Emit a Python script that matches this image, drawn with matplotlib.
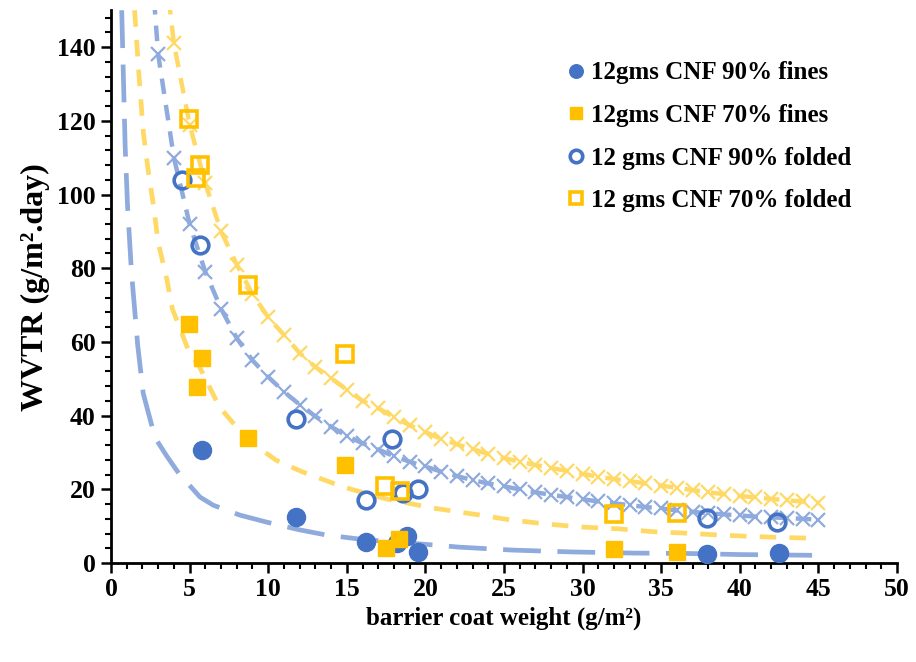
#!/usr/bin/env python3
"""WVTR vs barrier coat weight for CNF coatings (fines / folded)."""

import matplotlib

matplotlib.use("Agg")
import matplotlib.pyplot as plt
from matplotlib.ticker import MultipleLocator

BLUE = "#4472C4"
GOLD = "#FFC000"
BLUE_LINE = "#8FAADC"
GOLD_LINE = "#FFD966"

# measured points
fines90_x = [5.8, 11.8, 16.2, 18.2, 18.8, 19.5, 37.9, 42.5]
fines90_y = [30.7, 12.5, 5.7, 5.3, 7.3, 3.0, 2.5, 2.6]

fines70_x = [4.96, 5.8, 5.45, 8.7, 14.9, 17.5, 18.3, 32.0, 36.0]
fines70_y = [64.8, 55.6, 47.8, 33.9, 26.6, 4.1, 6.5, 3.8, 3.0]

folded90_x = [4.5, 5.66, 11.8, 17.9, 16.2, 18.6, 19.5, 37.9, 42.4]
folded90_y = [104.0, 86.3, 39.1, 33.6, 17.1, 19.0, 20.2, 12.2, 11.0]

folded70_x = [4.96, 5.66, 5.4, 8.7, 14.9, 17.4, 18.4, 32.0, 36.0]
folded70_y = [120.5, 108.0, 104.4, 75.4, 56.7, 21.0, 19.5, 13.3, 13.5]

# trend curves for the fines series
trend90_x = [0.68, 0.9, 1.05, 1.3, 1.7, 2.05, 2.8, 3.55, 4.3, 5.66, 6.5, 8.2,
             9.9, 12.0, 13.7, 16.0, 20.5, 22.2, 25.6, 29.4, 33.2, 36.6, 40.0, 44.6]
trend90_y = [150, 113, 97, 79, 59, 46, 34, 29, 24.4, 17.9, 15.7, 13.0,
             11.1, 9.0, 7.6, 6.4, 4.9, 4.3, 3.5, 3.0, 2.7, 2.6, 2.3, 2.1]

trend70_x = [1.5, 1.75, 2.05, 2.35, 2.7, 3.0, 3.55, 3.9, 4.9, 5.66, 6.9, 8.7,
             10.5, 12.2, 14.8, 17.3, 20.5, 23.5, 25.4, 27.7, 29.8, 32.2, 34.5,
             36.6, 38.7, 40.8, 43.0, 45.0]
trend70_y = [150, 134, 117, 107, 97, 87, 77, 69, 58, 53, 42.3, 33.4,
             27.9, 24.7, 20.6, 17.6, 14.9, 13.0, 11.7, 10.6, 9.8, 9.3, 8.5,
             8.1, 7.6, 7.2, 6.9, 6.7]

# model series for the folded samples (x markers, one per g/m2)
model90_x = list(range(2, 46))
model90_y = [195, 138, 110, 92, 79, 69, 61, 55, 50.5, 46.5, 43.0, 39.8, 37.0,
             34.5, 32.5, 30.8, 29.0, 27.5, 26.2, 24.8, 23.6, 22.5, 21.6, 20.8,
             20.0, 19.2, 18.5, 17.9, 17.3, 16.7, 16.2, 15.7, 15.2, 14.8, 14.3,
             13.9, 13.5, 13.2, 12.9, 12.6, 12.4, 12.2, 12.0, 11.8]

model70_x = list(range(3, 46))
model70_y = [178, 141, 119, 103, 90, 81, 73, 66.7, 61.9, 57.0, 53.2, 50.2,
             47.0, 44.0, 42.0, 39.6, 37.4, 35.5, 33.7, 32.2, 30.9, 29.6, 28.5,
             27.5, 26.6, 25.8, 25.0, 24.2, 23.4, 22.8, 22.2, 21.6, 21.0, 20.4,
             19.8, 19.2, 18.7, 18.2, 17.8, 17.4, 17.0, 16.7, 16.4]

plt.rcParams["font.family"] = ["Liberation Serif", "DejaVu Serif"]
plt.rcParams["font.weight"] = "bold"

fig = plt.figure(figsize=(9.16, 6.62), dpi=100)
ax = fig.add_axes([0.1212, 0.1495, 0.858, 0.835])

# model curves with x markers
ax.plot(model70_x, model70_y, color=GOLD_LINE, lw=0, marker="x", ms=10,
        mew=1.6, zorder=2)
ax.plot(model70_x, model70_y, color=GOLD_LINE, lw=3.2, dashes=(3.5, 2.5),
        zorder=3)
ax.plot(model90_x, model90_y, color=BLUE_LINE, lw=0, marker="x", ms=10,
        mew=1.6, zorder=2)
ax.plot(model90_x, model90_y, color=BLUE_LINE, lw=3.2, dashes=(3.5, 2.5),
        zorder=3)

# fines trend lines
ax.plot(trend70_x, trend70_y, color=GOLD_LINE, lw=3.4, dashes=(3.5, 2.8),
        zorder=3)
ax.plot(trend90_x, trend90_y, color=BLUE_LINE, lw=3.4, dashes=(8, 3.5),
        zorder=3)

# measurements
ax.plot(fines90_x, fines90_y, ls="none", marker="o", ms=13, color=BLUE,
        mec=BLUE, label="12gms CNF 90% fines", zorder=5)
ax.plot(fines70_x, fines70_y, ls="none", marker="s", ms=12, color=GOLD,
        mec=GOLD, label="12gms CNF 70% fines", zorder=5)
ax.plot(folded90_x, folded90_y, ls="none", marker="o", ms=12, mfc="none",
        mec=BLUE, mew=2.6, label="12 gms CNF 90% folded", zorder=5)
ax.plot(folded70_x, folded70_y, ls="none", marker="s", ms=12, mfc="none",
        mec=GOLD, mew=2.6, label="12 gms CNF 70% folded", zorder=5)

ax.set_xlim(0, 50)
ax.set_ylim(0, 150)
ax.xaxis.set_major_locator(MultipleLocator(5))
ax.xaxis.set_minor_locator(MultipleLocator(1))
ax.yaxis.set_major_locator(MultipleLocator(20))
ax.yaxis.set_minor_locator(MultipleLocator(4))

for side in ("top", "right"):
    ax.spines[side].set_visible(False)
for side in ("left", "bottom"):
    ax.spines[side].set_linewidth(2.0)
    ax.spines[side].set_color("black")

ax.tick_params(which="major", direction="out", length=7, width=1.8,
               labelsize=18.5, pad=4)
ax.tick_params(which="minor", direction="out", length=4.5, width=1.5)

ax.set_xlabel("barrier coat weight (g/m²)", fontsize=18,
              fontweight="bold", labelpad=4)
ax.set_ylabel("WVTR (g/m².day)", fontsize=23,
              fontweight="bold", labelpad=5)

leg = ax.legend(loc="upper left", bbox_to_anchor=(557 / 916, 1 - 49 / 662),
                bbox_transform=fig.transFigure, frameon=False, fontsize=18,
                handlelength=0.5, handletextpad=0.35, labelspacing=0.78,
                markerscale=0.75, borderpad=0)
for text in leg.get_texts():
    text.set_fontweight("bold")

fig.savefig("out.png", dpi=100)
